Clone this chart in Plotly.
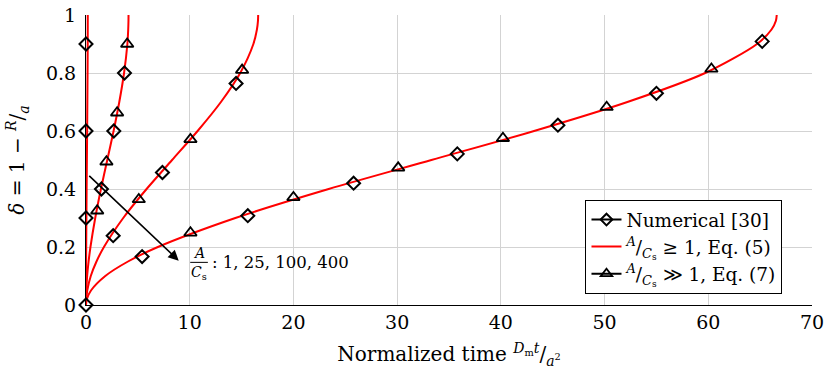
import plotly.graph_objects as go

# red curves, Eq. (5): normalized time vs delta, for A/Cs = 1, 25, 100, 400
delta_curve = [0, 0.02, 0.05, 0.1, 0.15, 0.2, 0.3, 0.4, 0.5, 0.6, 0.7, 0.8, 0.9, 0.95, 0.98, 1.0]
t_curve_1 = [0, 0.002, 0.005, 0.008, 0.012, 0.02, 0.04, 0.06, 0.085, 0.11, 0.13, 0.15, 0.165, 0.168, 0.17, 0.17]
t_curve_25 = [0, 0.005, 0.03, 0.11, 0.25, 0.43, 0.89, 1.44, 2.05, 2.66, 3.21, 3.67, 3.99, 4.07, 4.095, 4.1]
t_curve_100 = [0, 0.02, 0.12, 0.46, 1.01, 1.73, 3.59, 5.84, 8.3, 10.76, 13.01, 14.87, 16.14, 16.48, 16.58, 16.6]
t_curve_400 = [0, 0.08, 0.48, 1.86, 4.05, 6.93, 14.4, 23.4, 33.3, 43.2, 52.2, 59.7, 64.7, 66.1, 66.52, 66.6]

# numerical results [30] (diamonds)
num_t = [0, 0, 0, 0, 1.49, 2.68, 3.71, 2.62, 7.37, 14.47, 5.41, 15.6, 25.8, 35.8, 45.5, 55.0, 65.2]
num_d = [0, 0.3, 0.6, 0.9, 0.4, 0.6, 0.8, 0.239, 0.457, 0.764, 0.167, 0.308, 0.42, 0.521, 0.62, 0.73, 0.909]

# Eq. (7), A/Cs >> 1 (triangles)
eq7_t = [1.08, 1.97, 3.0, 3.97, 5.09, 10.07, 15.05, 10.07, 20.0, 30.1, 40.2, 50.2, 60.3]
eq7_d = [0.325, 0.494, 0.663, 0.9, 0.364, 0.571, 0.81, 0.249, 0.371, 0.473, 0.575, 0.682, 0.814]

x_ticks = [0, 10, 20, 30, 40, 50, 60, 70]
y_ticks = [0, 0.2, 0.4, 0.6, 0.8, 1]

FONT = "DejaVu Serif"
RED = "#ff0000"

fig = go.Figure()

for tc in [t_curve_1, t_curve_25, t_curve_100, t_curve_400]:
    fig.add_trace(go.Scatter(x=tc, y=delta_curve, mode="lines", line=dict(color=RED, width=2, shape="spline", smoothing=0.8),
                             showlegend=False, hoverinfo="skip", cliponaxis=False))

fig.add_trace(go.Scatter(x=num_t, y=num_d, mode="markers", showlegend=False, cliponaxis=False,
                         marker=dict(symbol="diamond-open", size=10, color="black", line=dict(width=2, color="black"))))
fig.add_trace(go.Scatter(x=eq7_t, y=eq7_d, mode="markers", showlegend=False, cliponaxis=False,
                         marker=dict(symbol="triangle-up-open", size=11, color="black", line=dict(width=1.8, color="black"))))

# legend entries
fig.add_trace(go.Scatter(x=[None], y=[None], mode="lines+markers", name="Numerical [30]",
                         line=dict(color="black", width=2),
                         marker=dict(symbol="diamond-open", size=9, color="black", line=dict(width=2, color="black"))))
fig.add_trace(go.Scatter(x=[None], y=[None], mode="lines", line=dict(color=RED, width=2),
                         name="<sup><i>A</i></sup>/<sub><i>C</i><sub>s</sub></sub> ≥ 1, Eq. (5)"))
fig.add_trace(go.Scatter(x=[None], y=[None], mode="lines+markers", line=dict(color="black", width=2),
                         name="<sup><i>A</i></sup>/<sub><i>C</i><sub>s</sub></sub> ≫ 1, Eq. (7)",
                         marker=dict(symbol="triangle-up-open", size=10, color="black", line=dict(width=1.8, color="black"))))

# arrow and its label
fig.add_annotation(x=8.94, y=0.153, ax=0.17, ay=0.45, xref="x", yref="y", axref="x", ayref="y",
                   showarrow=True, arrowhead=2, arrowsize=1.3, arrowwidth=1.6, arrowcolor="black", text="")
fig.add_annotation(x=10.85, y=0.18, xref="x", yref="y", text="<i>A</i>", showarrow=False,
                   font=dict(family=FONT, size=14, color="black"))
fig.add_annotation(x=10.85, y=0.112, xref="x", yref="y", text="<i>C</i><sub>s</sub>", showarrow=False,
                   font=dict(family=FONT, size=14, color="black"))
fig.add_shape(type="line", xref="x", yref="y", x0=10.05, x1=11.75, y0=0.147, y1=0.147,
              line=dict(color="black", width=1))
fig.add_annotation(x=12.0, y=0.147, xref="x", yref="y", xanchor="left", text=": 1, 25, 100, 400",
                   showarrow=False, font=dict(family=FONT, size=16.5, color="black"))

fig.update_xaxes(range=[0, 70], tickvals=x_ticks, showgrid=True, gridcolor="#d3d3d3", gridwidth=1,
                 zeroline=False, showline=True, linecolor="black", linewidth=1.2, ticks="",
                 automargin=False,
                 tickfont=dict(family=FONT, size=19, color="black"),
                 title=dict(text="Normalized time <sup><i>D</i><sub>m</sub><i>t</i></sup>/<sub><i>a</i><sup>2</sup></sub>",
                            font=dict(family=FONT, size=20, color="black")))
fig.update_yaxes(range=[0, 1], tickvals=y_ticks, showgrid=True, gridcolor="#d3d3d3", gridwidth=1,
                 zeroline=False, showline=True, linecolor="black", linewidth=1.2, ticks="",
                 automargin=False, ticklabelstandoff=5,
                 tickfont=dict(family=FONT, size=19, color="black"),
                 title=dict(text="<i>δ</i> = 1 − <sup><i>R</i></sup>/<sub><i>a</i></sub>",
                            font=dict(family=FONT, size=20, color="black")))

fig.update_layout(
    width=831, height=376,
    margin=dict(l=86, r=19, t=15, b=71),
    plot_bgcolor="white", paper_bgcolor="white",
    font=dict(family=FONT),
    legend=dict(x=0.688, y=0.362, xanchor="left", yanchor="top", bgcolor="white",
                bordercolor="black", borderwidth=1, font=dict(family=FONT, size=18.5, color="black"),
                tracegroupgap=0, itemwidth=30),
)

fig.write_html("out.html", config={"displayModeBar": False},
               post_script="document.body.style.margin='0';")
